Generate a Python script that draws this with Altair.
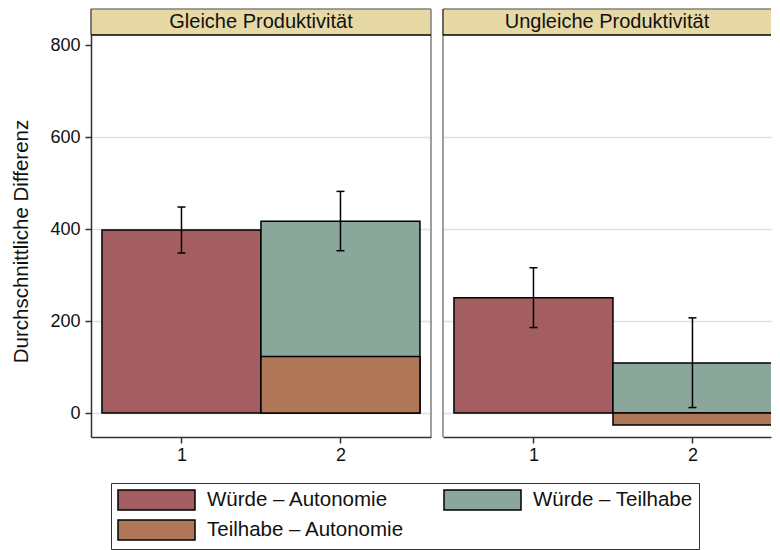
import altair as alt
import pandas as pd

# ---- data ----
panel_titles = ["Gleiche Produktivität", "Ungleiche Produktivität"]
series = ["Würde – Autonomie", "Würde – Teilhabe", "Teilhabe – Autonomie"]
series_x = [1, 2, 2]
gleich_values = [398, 417, 123]
ungleich_values = [251, 109, -26]
err_x = [1, 2]
gleich_lo = [348, 353]
gleich_hi = [448, 482]
ungleich_lo = [186, 12]
ungleich_hi = [316, 207]
y_tick_values = [0, 200, 400, 600, 800]
x_tick_values = [1, 2]
y_title = "Durchschnittliche Differenz"
series_colors = ["#A45E62", "#8BA69B", "#B07658"]
# legend entries fill column by column: this order gives the reference rows
legend_order = ["Würde – Autonomie", "Teilhabe – Autonomie", "Würde – Teilhabe"]
legend_colors = ["#A45E62", "#B07658", "#8BA69B"]

FONT = "Liberation Sans"
Y_DOMAIN = [-52, 822]
PLOT_H = 402
X_MIN = 0.431
UNIT = 159.0
HEADER_H = 26
BORDER = "#7f7f7f"

legend = alt.Legend(
    title=None, orient="none", legendX=20, legendY=448, columns=2,
    symbolType="M-1,-1H6.7V1H-1Z", symbolSize=400,
    symbolStrokeColor="black", symbolStrokeWidth=1.5, symbolOpacity=1,
    labelFont=FONT, labelFontSize=20.5, labelColor="#111", labelOffset=68,
    labelLimit=500, rowPadding=4, columnPadding=36, padding=6,
    strokeColor="#333", fillColor="white",
)


def make_panel(title, values, lo, hi, width, first):
    x_max = X_MIN + width / UNIT
    bars = pd.DataFrame({"series": series, "x": series_x, "value": values})
    errs = pd.DataFrame({"x": err_x, "lo": lo, "hi": hi})
    head = pd.DataFrame({"title": [title]})
    xs = alt.Scale(domain=[X_MIN, x_max], nice=False, zero=False)
    ys = alt.Scale(domain=Y_DOMAIN, nice=False, zero=False)
    grid_color = {"condition": {"test": "datum.value === 800", "value": "transparent"},
                  "value": "#e0e0e0"}
    if first:
        yaxis = alt.Axis(values=y_tick_values, title=y_title, gridColor=grid_color,
                         titlePadding=18, labelPadding=5, titleY=206)
    else:
        yaxis = alt.Axis(values=y_tick_values, title=None, labels=False, ticks=False,
                         domain=False, gridColor=grid_color)
    xaxis = alt.Axis(values=x_tick_values, format="d", title=None, grid=False, labelPadding=3)

    rects = alt.Chart(bars).transform_calculate(
        x0="datum.x - 0.5", x1="datum.x + 0.5"
    ).mark_rect(stroke="black", strokeWidth=1.5, clip=True).encode(
        x=alt.X("x0:Q", scale=xs, axis=xaxis),
        x2="x1:Q",
        y=alt.Y("value:Q", scale=ys, axis=yaxis),
        y2=alt.datum(0),
        fill=alt.Fill("series:N", scale=alt.Scale(domain=legend_order, range=legend_colors),
                      legend=legend),
    )
    rule = alt.Chart(errs).mark_rule(color="black", strokeWidth=1.5).encode(
        x=alt.X("x:Q", scale=xs, axis=xaxis),
        y=alt.Y("lo:Q", scale=ys, axis=yaxis),
        y2="hi:Q",
    )
    cap_lo = alt.Chart(errs).mark_tick(color="black", orient="horizontal", size=8,
                                       thickness=1.5, opacity=1).encode(
        x=alt.X("x:Q", scale=xs, axis=xaxis),
        y=alt.Y("lo:Q", scale=ys, axis=yaxis),
    )
    cap_hi = alt.Chart(errs).mark_tick(color="black", orient="horizontal", size=8,
                                       thickness=1.5, opacity=1).encode(
        x=alt.X("x:Q", scale=xs, axis=xaxis),
        y=alt.Y("hi:Q", scale=ys, axis=yaxis),
    )
    # side border of the panel + header (right of the first panel, left of the second)
    border = alt.Chart(head).mark_rule(color=BORDER, strokeWidth=1.5).encode(
        x=alt.value(width if first else 0), y=alt.value(-HEADER_H), y2=alt.value(PLOT_H)
    )
    hrect = alt.Chart(head).mark_rect(fill="#E6D9A5").encode(
        x=alt.value(0), x2=alt.value(width), y=alt.value(-HEADER_H), y2=alt.value(0)
    )
    htop = alt.Chart(head).mark_rule(color=BORDER, strokeWidth=1.5).encode(
        x=alt.value(0), x2=alt.value(width), y=alt.value(-HEADER_H)
    )
    hleft = alt.Chart(head).mark_rule(color="#555", strokeWidth=1.5).encode(
        x=alt.value(0), y=alt.value(-HEADER_H), y2=alt.value(0)
    )
    hline = alt.Chart(head).mark_rule(color="black", strokeWidth=1.5).encode(
        x=alt.value(0), x2=alt.value(width), y=alt.value(0)
    )
    htext = alt.Chart(head).mark_text(font=FONT, fontSize=20, color="#111",
                                      baseline="middle", align="center").encode(
        x=alt.value(width / 2), y=alt.value(-HEADER_H / 2), text="title:N"
    )
    return alt.layer(rects, rule, cap_lo, cap_hi, hrect, border, htop, hleft, hline,
                     htext).properties(width=width, height=PLOT_H)


left = make_panel(panel_titles[0], gleich_values, gleich_lo, gleich_hi, 340, True)
right = make_panel(panel_titles[1], ungleich_values, ungleich_lo, ungleich_hi, 328, False)

chart = alt.hconcat(left, right, spacing=10).properties(
    padding={"left": 3, "top": 0, "right": 0, "bottom": 0}
).configure(font=FONT).configure_view(
    strokeWidth=0
).configure_axis(
    labelFont=FONT, labelFontSize=18, labelColor="#111",
    titleFont=FONT, titleFontSize=20.5, titleFontWeight="normal", titleColor="#111",
    domainColor="#333", domainWidth=1.5, tickColor="#333", tickWidth=1.5, tickSize=6,
    gridWidth=1.5,
)

chart.save("out.html", embed_options={"renderer": "svg", "actions": False})
